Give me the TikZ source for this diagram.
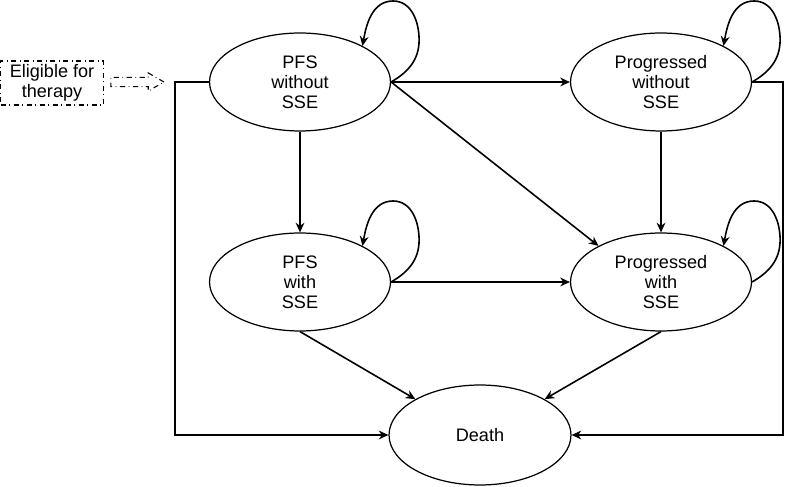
\documentclass[tikz,border=0pt]{standalone}
\usepackage{fontspec}
\setmainfont{Liberation Sans}
\usetikzlibrary{arrows.meta,shapes.geometric,shapes.arrows}

\begin{document}
\begin{tikzpicture}[x=0.02cm,y=0.02cm,
    state/.style={draw,ellipse,line width=0.7pt,minimum width=3.62cm,minimum height=1.96cm,inner sep=0pt,align=center,font=\fontsize{10.3}{11.5}\selectfont},
    link/.style={line width=0.9pt,-{Stealth[length=5.5pt,width=5pt,inset=1.8pt]}}]
            \useasboundingbox (0,0) rectangle (786,486);
            \node[draw,dash dot,line width=0.6pt,minimum width=2.06cm,minimum height=0.88cm,inner sep=0pt,align=center,font=\fontsize{10.3}{11.5}\selectfont] (elig) at (52,403) {Eligible for\\therapy};
            \node[draw,dash dot,line width=0.6pt,single arrow,minimum height=1.06cm,inner sep=2.3pt,single arrow head extend=0.09cm,single arrow tip angle=60] (elig-arrow) at (133.5,404) {};

            \node[state] (pfs0) at (300,404) {PFS\\without\\SSE};
            \node[state] (prog0) at (661,404) {Progressed\\without\\SSE};
            \node[state] (pfs1) at (300,204) {PFS\\with\\SSE};
            \node[state] (prog1) at (661,204) {Progressed\\with\\SSE};
            \node[state,minimum width=3.64cm,minimum height=2cm] (death) at (480,51) {Death};

            \draw[link] (pfs0.east) -- (prog0.west);
            \draw[link] (pfs0.east) -- (prog1.150);
            \draw[link] (pfs0.south) -- (pfs1.north);
            \draw[link] (prog0.south) -- (prog1.north);
            \draw[link] (pfs1.east) -- (prog1.west);
            \draw[link] (pfs1.south) -- (death.151);
            \draw[link] (prog1.south) -- (death.29);
            \draw[link] (pfs0.west) -- ++(-34,0) |- (death.west);
            \draw[link] (prog0.east) -- ++(31,0) |- (death.east);

            \foreach \s in {pfs0,prog0,pfs1,prog1}
                \draw[link] (\s.east) to[out=30,in=-90] ++(28,42) to[out=90,in=0] ++(-26,39) to[out=180,in=80] (\s.30);
        \end{tikzpicture}
\end{document}
